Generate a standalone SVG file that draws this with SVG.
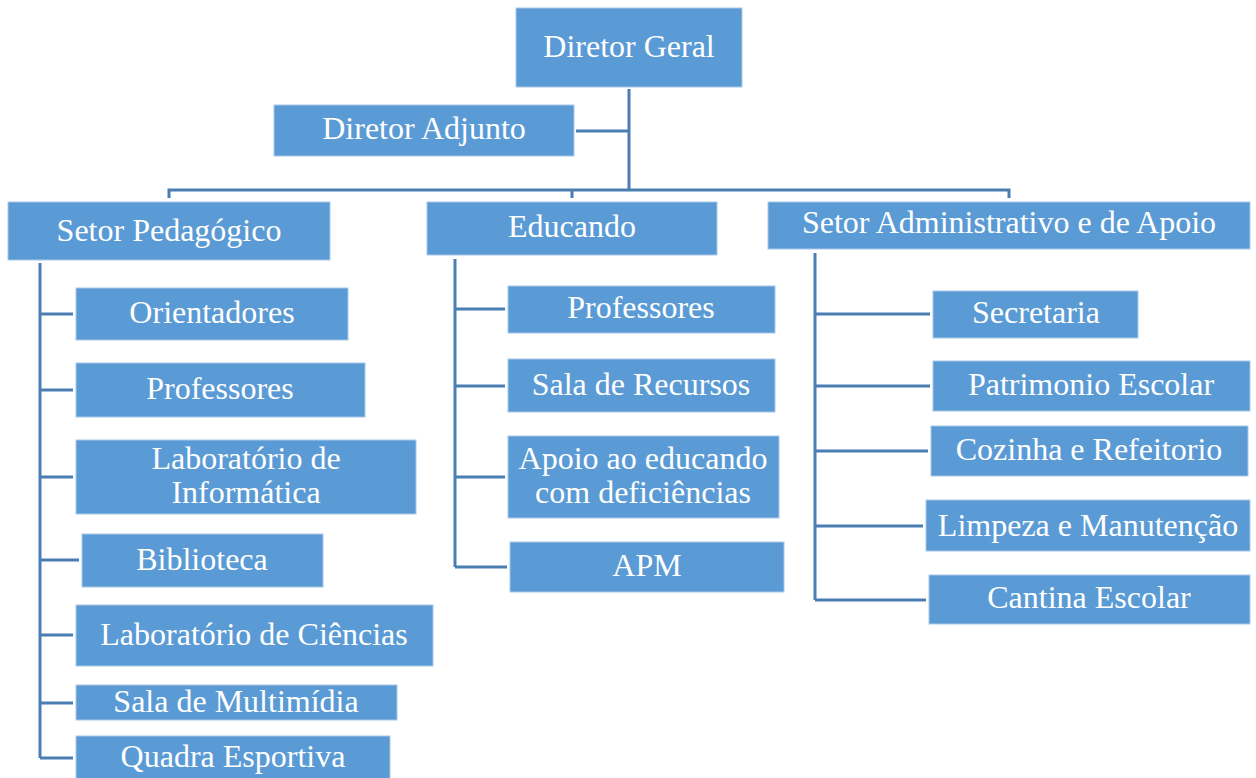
<svg xmlns="http://www.w3.org/2000/svg" width="1256" height="778" viewBox="0 0 1256 778">
<style>
.box{fill:#5B9BD5;stroke:#A9C8E8;stroke-width:1}
.t{font-family:"Liberation Serif","Times New Roman",serif;font-size:32px;fill:#ffffff;text-anchor:middle}
.c{fill:none;stroke:#4A7EB3;stroke-width:3}
</style>
<rect width="1256" height="778" fill="#ffffff"/>
<g id="connectors">
<path class="c" d="M629,89 V190 M576,131 H629 M169,198 V190 H1009 V198 M572,190 V198"/>
<path class="c" d="M40,263 V758 M40,314 H73 M40,390 H73 M40,477 H73 M40,560 H79 M40,635 H73 M40,703 H73 M40,758 H73"/>
<path class="c" d="M455,259 V567 M455,309 H505 M455,386 H505 M455,477 H505 M455,567 H507"/>
<path class="c" d="M815,253 V600 M815,314 H930 M815,386 H930 M815,451 H928 M815,526 H923 M815,600 H926"/>
</g>
<g id="diretor-geral"><rect class="box" x="516" y="8" width="226" height="79"/><text class="t" x="629" y="57">Diretor Geral</text></g>
<g id="diretor-adjunto"><rect class="box" x="274" y="105" width="300" height="51"/><text class="t" x="424" y="139">Diretor Adjunto</text></g>
<g id="setor-pedagogico"><rect class="box" x="8" y="202" width="322" height="58"/><text class="t" x="169" y="241">Setor Pedagógico</text></g>
<g id="orientadores"><rect class="box" x="76" y="288" width="272" height="52"/><text class="t" x="212" y="323">Orientadores</text></g>
<g id="professores-sp"><rect class="box" x="76" y="363" width="289" height="54"/><text class="t" x="220" y="399">Professores</text></g>
<g id="lab-informatica"><rect class="box" x="76" y="440" width="340" height="74"/><text class="t" x="246" y="469">Laboratório de</text><text class="t" x="246" y="503">Informática</text></g>
<g id="biblioteca"><rect class="box" x="82" y="534" width="241" height="53"/><text class="t" x="202" y="570">Biblioteca</text></g>
<g id="lab-ciencias"><rect class="box" x="76" y="605" width="357" height="61"/><text class="t" x="254" y="645">Laboratório de Ciências</text></g>
<g id="sala-multimidia"><rect class="box" x="76" y="685" width="321" height="35"/><text class="t" x="236" y="712">Sala de Multimídia</text></g>
<g id="quadra-esportiva"><rect class="box" x="76" y="736" width="314" height="50"/><text class="t" x="233" y="767">Quadra Esportiva</text></g>
<g id="educando"><rect class="box" x="427" y="202" width="290" height="53"/><text class="t" x="572" y="237">Educando</text></g>
<g id="professores-ed"><rect class="box" x="508" y="286" width="267" height="47"/><text class="t" x="641" y="318">Professores</text></g>
<g id="sala-recursos"><rect class="box" x="508" y="359" width="267" height="53"/><text class="t" x="641" y="395">Sala de Recursos</text></g>
<g id="apoio-educando"><rect class="box" x="508" y="436" width="271" height="82"/><text class="t" x="643" y="469">Apoio ao educando</text><text class="t" x="643" y="503">com deficiências</text></g>
<g id="apm"><rect class="box" x="510" y="542" width="274" height="50"/><text class="t" x="647" y="576">APM</text></g>
<g id="setor-administrativo"><rect class="box" x="768" y="202" width="482" height="47"/><text class="t" x="1009" y="233">Setor Administrativo e de Apoio</text></g>
<g id="secretaria"><rect class="box" x="933" y="291" width="205" height="47"/><text class="t" x="1036" y="323">Secretaria</text></g>
<g id="patrimonio"><rect class="box" x="933" y="361" width="317" height="50"/><text class="t" x="1091" y="395">Patrimonio Escolar</text></g>
<g id="cozinha"><rect class="box" x="931" y="426" width="317" height="50"/><text class="t" x="1089" y="460">Cozinha e Refeitorio</text></g>
<g id="limpeza"><rect class="box" x="926" y="500" width="324" height="51"/><text class="t" x="1088" y="536">Limpeza e Manutenção</text></g>
<g id="cantina"><rect class="box" x="929" y="575" width="321" height="49"/><text class="t" x="1089" y="608">Cantina Escolar</text></g>
</svg>
